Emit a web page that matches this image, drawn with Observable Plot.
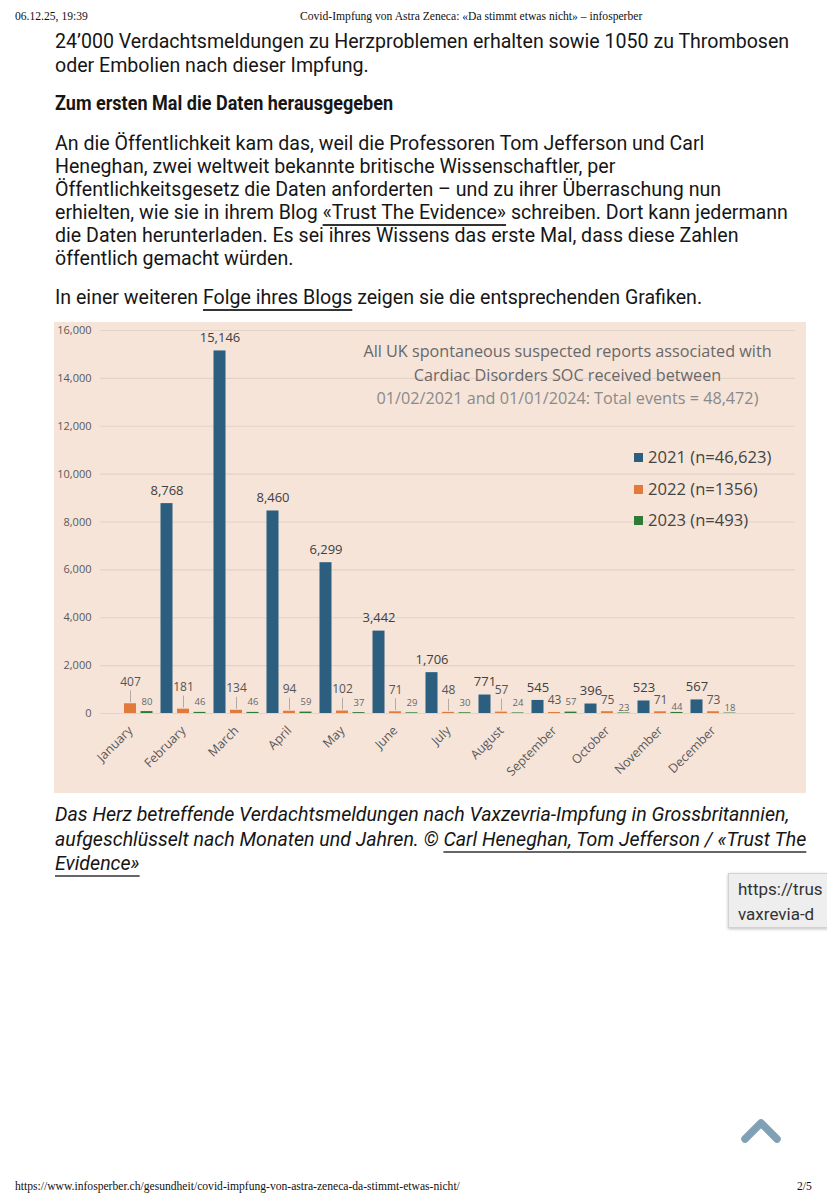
<!DOCTYPE html>
<html>
<head>
<meta charset="utf-8">
<script src="https://cdn.jsdelivr.net/npm/d3@7"></script>
<script src="https://cdn.jsdelivr.net/npm/@observablehq/plot@0.6"></script>
<style>
  html, body { margin: 0; padding: 0; width: 827px; height: 1200px; overflow: hidden; background: #fff; }
  .abs { position: absolute; white-space: nowrap; }
  .hdr { font-family: "Liberation Serif", serif; font-size: 11.6px; color: #111; line-height: 14px; }
  .txt { font-family: Roboto, sans-serif; font-size: 20.5px; color: #161616; line-height: 24px; left: 55px; transform: scaleX(0.955); transform-origin: 0 0; }
  .bold { font-weight: 700; transform: scaleX(0.88); }
  .cap { font-style: italic; }
  .lnk { text-decoration: underline; text-decoration-thickness: 1.5px; text-underline-offset: 5px; text-decoration-color: #333; }
  .capl { text-decoration: underline; text-decoration-thickness: 1.5px; text-underline-offset: 5px; text-decoration-color: #666; }
  #chart { position: absolute; left: 54px; top: 322px; width: 752px; height: 471px; }
  .ct { font-family: "Open Sans", sans-serif; position: absolute; white-space: nowrap; }
  .tip { position: absolute; left: 728px; top: 873px; width: 120px; height: 55px; background: #eeeeee; border: 1px solid #d2d2d2; box-shadow: 0 1px 3px rgba(0,0,0,0.25); font-family: Roboto, sans-serif; font-size: 17px; color: #333; line-height: 25px; padding: 3px 0 0 9px; box-sizing: border-box; overflow: hidden; }
</style>
</head>
<body>
<div class="abs hdr" style="left:15px; top:10px;">06.12.25, 19:39</div>
<div class="abs hdr" style="left:300px; top:10px;">Covid-Impfung von Astra Zeneca: «Da stimmt etwas nicht» – infosperber</div>

<div class="abs txt" style="top:29px;">24’000 Verdachtsmeldungen zu Herzproblemen erhalten sowie 1050 zu Thrombosen</div>
<div class="abs txt" style="top:53px;">oder Embolien nach dieser Impfung.</div>
<div class="abs txt bold" style="top:91px;">Zum ersten Mal die Daten herausgegeben</div>
<div class="abs txt" style="top:131px;">An die Öffentlichkeit kam das, weil die Professoren Tom Jefferson und Carl</div>
<div class="abs txt" style="top:154px;">Heneghan, zwei weltweit bekannte britische Wissenschaftler, per</div>
<div class="abs txt" style="top:177px;">Öffentlichkeitsgesetz die Daten anforderten – und zu ihrer Überraschung nun</div>
<div class="abs txt" style="top:200px;">erhielten, wie sie in ihrem Blog <span class="lnk">«Trust The Evidence»</span> schreiben. Dort kann jedermann</div>
<div class="abs txt" style="top:223px;">die Daten herunterladen. Es sei ihres Wissens das erste Mal, dass diese Zahlen</div>
<div class="abs txt" style="top:246px;">öffentlich gemacht würden.</div>
<div class="abs txt" style="top:285px;">In einer weiteren <span class="lnk">Folge ihres Blogs</span> zeigen sie die entsprechenden Grafiken.</div>

<div id="chart"></div>

<div class="abs txt cap" style="top:802px;">Das Herz betreffende Verdachtsmeldungen nach Vaxzevria-Impfung in Grossbritannien,</div>
<div class="abs txt cap" style="top:827px;">aufgeschlüsselt nach Monaten und Jahren. © <span class="capl">Carl Heneghan, Tom Jefferson / «Trust The</span></div>
<div class="abs txt cap" style="top:851px;"><span class="capl">Evidence»</span></div>

<div class="tip">https://trus<br>vaxrevia-d</div>

<svg class="abs" style="left:735px; top:1110px;" width="52" height="40">
  <polyline points="10,29 26,13 42,29" fill="none" stroke="#7fa0b5" stroke-width="7.5" stroke-linecap="round" stroke-linejoin="round"/>
</svg>

<div class="abs hdr" style="left:15px; top:1180px;">https://www.infosperber.ch/gesundheit/covid-impfung-von-astra-zeneca-da-stimmt-etwas-nicht/</div>
<div class="abs hdr" style="left:797px; top:1180px;">2/5</div>

<script>
// ---- data ----
const months = ["January","February","March","April","May","June","July","August","September","October","November","December"];
const values2021 = [null, 8768, 15146, 8460, 6299, 3442, 1706, 771, 545, 396, 523, 567];
const values2022 = [407, 181, 134, 94, 102, 71, 48, 57, 43, 75, 71, 73];
const values2023 = [80, 46, 46, 59, 37, 29, 30, 24, 57, 23, 44, 18];
const yTicks = [0, 2000, 4000, 6000, 8000, 10000, 12000, 14000, 16000];
const seriesNames = ["2021 (n=46,623)", "2022 (n=1356)", "2023 (n=493)"];
const titleLines = [
  "All UK spontaneous suspected reports associated with",
  "Cardiac Disorders SOC received between",
  "01/02/2021 and 01/01/2024: Total events = 48,472)"
];

const colors = ["#2b5e7f", "#e27a3c", "#2e7a36"];
const toRows = (vals) => vals.map((v, i) => ({month: months[i], idx: i, value: v})).filter(d => d.value != null);
const r2021 = toRows(values2021);
const r2022 = toRows(values2022);
const r2023 = toRows(values2023);
const fmt = d3.format(",");
const off = 16.5, inset = 18;

const plot = Plot.plot({
  width: 752,
  height: 471,
  marginTop: 8,
  marginBottom: 80,
  marginLeft: 46,
  marginRight: 11,
  style: {background: "#f6e4d9", fontFamily: "'Open Sans', sans-serif", color: "#595959", overflow: "visible"},
  x: {domain: months, range: [44.7, 690], padding: 0.1, label: null},
  y: {domain: [0, 16000], label: null},
  marks: [
    Plot.ruleY(yTicks, {stroke: "#e3d2c8", strokeWidth: 1.2}),
    Plot.axisY({ticks: yTicks, tickSize: 0, tickPadding: 9, tickFormat: fmt, fontSize: 11, label: null}),
    Plot.axisX({tickRotate: -45, tickSize: 0, tickPadding: 15, fontSize: 12.5, label: null}),
    Plot.barY(r2021, {x: "month", y: "value", fill: colors[0], dx: -off, insetLeft: inset, insetRight: inset}),
    Plot.barY(r2022, {x: "month", y: "value", fill: colors[1], insetLeft: inset, insetRight: inset}),
    Plot.barY(r2023, {x: "month", y: "value", fill: colors[2], dx: off, insetLeft: inset, insetRight: inset}),
    // 2021 labels
    Plot.text(r2021, {x: "month", y: "value", text: d => fmt(d.value), dx: -off, dy: -13, fontSize: 13, fill: "#404040"}),
    // 2022 labels with leader lines (early months)
    Plot.ruleX(r2022.filter(d => d.idx < 8), {x: "month", y1: "value", y2: "value", insetTop: -13, insetBottom: 1, stroke: "#b3aaa3", strokeWidth: 1}),
    Plot.text(r2022.filter(d => d.idx < 8), {x: "month", y: "value", text: d => fmt(d.value), dy: -22, fontSize: 12, fill: "#555"}),
    Plot.text(r2022.filter(d => d.idx >= 8), {x: "month", y: "value", text: d => fmt(d.value), dy: -12, fontSize: 12, fill: "#555"}),
    // 2023 labels
    Plot.text(r2023.filter(d => d.idx < 9), {x: "month", y: "value", text: d => fmt(d.value), dx: off, dy: -10, fontSize: 9.5, fill: "#666"}),
    Plot.text(r2023.filter(d => d.idx >= 9), {x: "month", y: "value", text: d => fmt(d.value), dx: off, dy: -5, fontSize: 9.5, fill: "#666"})
  ]
});
const chart = document.getElementById("chart");
chart.appendChild(plot);

// chart title overlay
const titleColors = ["#686868", "#686868", "#8a8a8a"];
titleLines.forEach((t, i) => {
  const el = document.createElement("div");
  el.className = "ct";
  el.textContent = t;
  el.style.cssText += `left:0; width:1027px; text-align:center; top:${18 + i * 23.5}px; font-size:16.2px; color:${titleColors[i]};`;
  chart.appendChild(el);
});

// legend overlay
seriesNames.forEach((s, i) => {
  const el = document.createElement("div");
  el.className = "ct";
  el.style.cssText += `left:580px; top:${124 + i * 31.5}px; font-size:16.6px; color:#444; line-height:22px;`;
  el.innerHTML = `<span style="display:inline-block;width:9px;height:9px;background:${colors[i]};margin-right:5px;vertical-align:1px;"></span>${s}`;
  chart.appendChild(el);
});
</script>
</body>
</html>
